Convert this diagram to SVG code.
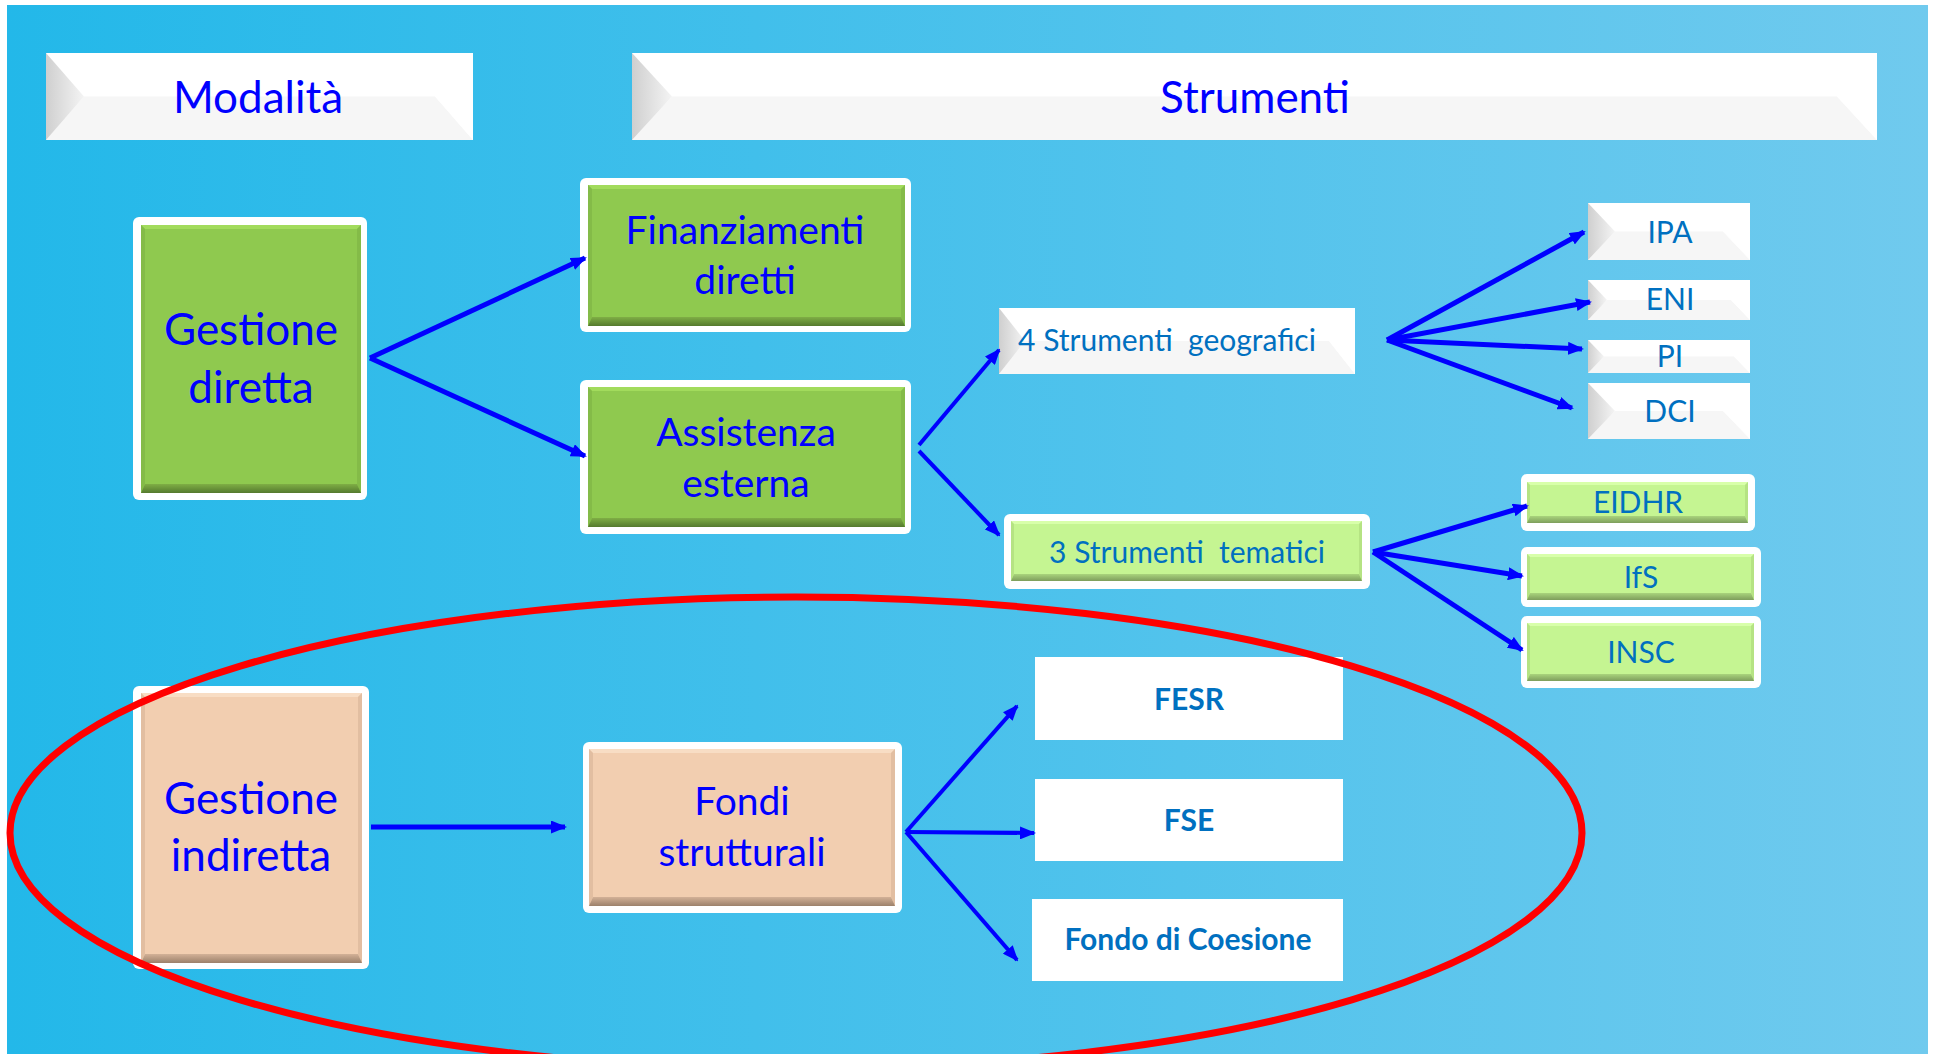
<svg xmlns="http://www.w3.org/2000/svg" width="1937" height="1054" viewBox="0 0 1937 1054">
<defs>
<linearGradient id="bg" x1="0" y1="0" x2="1" y2="0">
<stop offset="0" stop-color="#23B8E9"/>
<stop offset="1" stop-color="#70CAEE"/>
</linearGradient>
<linearGradient id="hl" x1="0" y1="0" x2="1" y2="0">
<stop offset="0" stop-color="#CFCFCF"/>
<stop offset="1" stop-color="#F4F4F4"/>
</linearGradient>
<linearGradient id="gB" x1="0" y1="0" x2="0" y2="1">
<stop offset="0" stop-color="#7FAE45"/>
<stop offset="1" stop-color="#557A2E"/>
</linearGradient>
<linearGradient id="lB" x1="0" y1="0" x2="0" y2="1">
<stop offset="0" stop-color="#A9D47C"/>
<stop offset="1" stop-color="#7E9E5C"/>
</linearGradient>
<linearGradient id="pB" x1="0" y1="0" x2="0" y2="1">
<stop offset="0" stop-color="#D3B197"/>
<stop offset="1" stop-color="#9C816B"/>
</linearGradient>
<marker id="ah" viewBox="0 0 16 13" refX="14" refY="6.5" markerWidth="16" markerHeight="13" markerUnits="userSpaceOnUse" orient="auto">
<path d="M0,0 L16,6.5 L0,13 Z" fill="#0000FF"/>
</marker>
</defs>
<style>
.frame{fill:#FFFFFF}
.hdr{fill:#FFFFFF}
.hL{fill:url(#hl)}
.hB{fill:#F6F6F6}
.hR{fill:#FFFFFF}
.g{fill:#8FC94F}
.gT{fill:#A2DB5C}
.gS{fill:#84BB48}
.gB{fill:url(#gB)}
.l{fill:#C5F592}
.lT{fill:#D8FFAA}
.lS{fill:#B5E383}
.lB{fill:url(#lB)}
.p{fill:#F2CEB0}
.pT{fill:#F8DDC4}
.pS{fill:#E2BEA1}
.pB{fill:url(#pB)}
.plain{fill:#FFFFFF}
text{font-family:Lato,"Open Sans","Liberation Sans",sans-serif;text-anchor:middle}
.big{fill:#0000FF;font-size:44px}
.mid{fill:#0000FF;font-size:39px}
.sm{fill:#0070C0;font-size:30px}
.bd{fill:#0070C0;font-size:30px;font-weight:bold}
.conn line{stroke:#0000FF;stroke-width:5;marker-end:url(#ah)}
.conn line.thin{stroke-width:4}
</style>
<rect x="0" y="0" width="1937" height="1054" fill="#FFFFFF"/>
<rect x="7" y="5" width="1921" height="1049" fill="url(#bg)"/>

<g id="hdr-modalita">
<rect class="hdr" x="46" y="53" width="427" height="87"/>
<polygon class="hB" points="84,96.5 435,96.5 473,140 46,140"/>
<polygon class="hR" points="435,96.5 473,53 473,140"/>
<polygon class="hL" points="46,53 84,96.5 46,140"/>
<text class="big" x="258" y="113">Modalità</text>
</g>
<g id="hdr-strumenti">
<rect class="hdr" x="632" y="53" width="1245" height="87"/>
<polygon class="hB" points="672,96.5 1837,96.5 1877,140 632,140"/>
<polygon class="hR" points="1837,96.5 1877,53 1877,140"/>
<polygon class="hL" points="632,53 672,96.5 632,140"/>
<text class="big" x="1255" y="113">Strumenti</text>
</g>

<g id="gestione-diretta">
<rect class="frame" x="133" y="217" width="234" height="283" rx="6"/>
<rect class="g" x="141" y="225" width="220" height="268"/>
<polygon class="gT" points="141,225 361,225 357,229 145,229"/>
<polygon class="gS" points="141,225 145,229 145,484 141,493"/>
<polygon class="gS" points="361,225 357,229 357,484 361,493"/>
<polygon class="gB" points="141,493 361,493 357,484 145,484"/>
<text class="big" x="251" y="345">Gestione</text>
<text class="big" x="251" y="403">diretta</text>
</g>

<g id="finanziamenti-diretti">
<rect class="frame" x="580" y="178" width="331" height="154" rx="6"/>
<rect class="g" x="588" y="185" width="317" height="141"/>
<polygon class="gT" points="588,185 905,185 901,189 592,189"/>
<polygon class="gS" points="588,185 592,189 592,317 588,326"/>
<polygon class="gS" points="905,185 901,189 901,317 905,326"/>
<polygon class="gB" points="588,326 905,326 901,317 592,317"/>
<text class="mid" x="745" y="244">Finanziamenti</text>
<text class="mid" x="745" y="294">diretti</text>
</g>

<g id="assistenza-esterna">
<rect class="frame" x="580" y="380" width="331" height="154" rx="6"/>
<rect class="g" x="588" y="387" width="317" height="140"/>
<polygon class="gT" points="588,387 905,387 901,391 592,391"/>
<polygon class="gS" points="588,387 592,391 592,518 588,527"/>
<polygon class="gS" points="905,387 901,391 901,518 905,527"/>
<polygon class="gB" points="588,527 905,527 901,518 592,518"/>
<text class="mid" x="746" y="446">Assistenza</text>
<text class="mid" x="746" y="497">esterna</text>
</g>

<g id="strumenti-geografici">
<rect class="hdr" x="999" y="308" width="356" height="66"/>
<polygon class="hB" points="1025,341 1329,341 1355,374 999,374"/>
<polygon class="hR" points="1329,341 1355,308 1355,374"/>
<polygon class="hL" points="999,308 1025,341 999,374"/>
<text class="sm" x="1167" y="351" xml:space="preserve">4 Strumenti  geografici</text>
</g>

<g id="ipa">
<rect class="hdr" x="1588" y="203" width="162" height="57"/>
<polygon class="hB" points="1615,231.5 1723,231.5 1750,260 1588,260"/>
<polygon class="hR" points="1723,231.5 1750,203 1750,260"/>
<polygon class="hL" points="1588,203 1615,231.5 1588,260"/>
<text class="sm" x="1670" y="243">IPA</text>
</g>
<g id="eni">
<rect class="hdr" x="1588" y="280" width="162" height="40"/>
<polygon class="hB" points="1607,300 1731,300 1750,320 1588,320"/>
<polygon class="hR" points="1731,300 1750,280 1750,320"/>
<polygon class="hL" points="1588,280 1607,300 1588,320"/>
<text class="sm" x="1670" y="310">ENI</text>
</g>
<g id="pi">
<rect class="hdr" x="1588" y="340" width="162" height="33"/>
<polygon class="hB" points="1604,356.5 1734,356.5 1750,373 1588,373"/>
<polygon class="hR" points="1734,356.5 1750,340 1750,373"/>
<polygon class="hL" points="1588,340 1604,356.5 1588,373"/>
<text class="sm" x="1670" y="367">PI</text>
</g>
<g id="dci">
<rect class="hdr" x="1588" y="383" width="162" height="56"/>
<polygon class="hB" points="1615,411 1723,411 1750,439 1588,439"/>
<polygon class="hR" points="1723,411 1750,383 1750,439"/>
<polygon class="hL" points="1588,383 1615,411 1588,439"/>
<text class="sm" x="1670" y="422">DCI</text>
</g>

<g id="strumenti-tematici">
<rect class="frame" x="1004" y="514" width="366" height="75" rx="6"/>
<rect class="l" x="1011" y="521" width="351" height="60"/>
<polygon class="lT" points="1011,521 1362,521 1359,524 1014,524"/>
<polygon class="lS" points="1011,521 1014,524 1014,574 1011,581"/>
<polygon class="lS" points="1362,521 1359,524 1359,574 1362,581"/>
<polygon class="lB" points="1011,581 1362,581 1359,574 1014,574"/>
<text class="sm" x="1187" y="563" xml:space="preserve">3 Strumenti  tematici</text>
</g>

<g id="eidhr">
<rect class="frame" x="1521" y="474" width="234" height="57" rx="6"/>
<rect class="l" x="1527" y="482" width="221" height="41"/>
<polygon class="lT" points="1527,482 1748,482 1745,485 1530,485"/>
<polygon class="lS" points="1527,482 1530,485 1530,516 1527,523"/>
<polygon class="lS" points="1748,482 1745,485 1745,516 1748,523"/>
<polygon class="lB" points="1527,523 1748,523 1745,516 1530,516"/>
<text class="sm" x="1638" y="513">EIDHR</text>
</g>
<g id="ifs">
<rect class="frame" x="1521" y="547" width="240" height="60" rx="6"/>
<rect class="l" x="1527" y="554" width="227" height="46"/>
<polygon class="lT" points="1527,554 1754,554 1751,557 1530,557"/>
<polygon class="lS" points="1527,554 1530,557 1530,593 1527,600"/>
<polygon class="lS" points="1754,554 1751,557 1751,593 1754,600"/>
<polygon class="lB" points="1527,600 1754,600 1751,593 1530,593"/>
<text class="sm" x="1641" y="588">IfS</text>
</g>
<g id="insc">
<rect class="frame" x="1521" y="616" width="240" height="72" rx="6"/>
<rect class="l" x="1527" y="623" width="227" height="58"/>
<polygon class="lT" points="1527,623 1754,623 1751,626 1530,626"/>
<polygon class="lS" points="1527,623 1530,626 1530,674 1527,681"/>
<polygon class="lS" points="1754,623 1751,626 1751,674 1754,681"/>
<polygon class="lB" points="1527,681 1754,681 1751,674 1530,674"/>
<text class="sm" x="1641" y="663">INSC</text>
</g>

<g id="gestione-indiretta">
<rect class="frame" x="133" y="686" width="236" height="283" rx="6"/>
<rect class="p" x="141" y="693" width="221" height="270"/>
<polygon class="pT" points="141,693 362,693 358,697 145,697"/>
<polygon class="pS" points="141,693 145,697 145,954 141,963"/>
<polygon class="pS" points="362,693 358,697 358,954 362,963"/>
<polygon class="pB" points="141,963 362,963 358,954 145,954"/>
<text class="big" x="251" y="814">Gestione</text>
<text class="big" x="251" y="871">indiretta</text>
</g>

<g id="fondi-strutturali">
<rect class="frame" x="583" y="742" width="319" height="171" rx="6"/>
<rect class="p" x="589" y="749" width="306" height="157"/>
<polygon class="pT" points="589,749 895,749 891,753 593,753"/>
<polygon class="pS" points="589,749 593,753 593,897 589,906"/>
<polygon class="pS" points="895,749 891,753 891,897 895,906"/>
<polygon class="pB" points="589,906 895,906 891,897 593,897"/>
<text class="mid" x="742" y="815">Fondi</text>
<text class="mid" x="742" y="866">strutturali</text>
</g>

<g id="fesr">
<rect class="plain" x="1035" y="657" width="308" height="83"/>
<text class="bd" x="1189" y="710">FESR</text>
</g>
<g id="fse">
<rect class="plain" x="1035" y="779" width="308" height="82"/>
<text class="bd" x="1189" y="831">FSE</text>
</g>
<g id="fondo-coesione">
<rect class="plain" x="1032" y="899" width="311" height="82"/>
<text class="bd" x="1188" y="950">Fondo di Coesione</text>
</g>

<g id="connectors" class="conn">
<line x1="370" y1="358" x2="585" y2="258"/>
<line x1="370" y1="358" x2="585" y2="456"/>
<line class="thin" x1="919" y1="445" x2="999" y2="350"/>
<line class="thin" x1="919" y1="451" x2="999" y2="535"/>
<line x1="1387" y1="340" x2="1584" y2="232"/>
<line x1="1387" y1="340" x2="1590" y2="302"/>
<line x1="1387" y1="340" x2="1582" y2="349"/>
<line x1="1387" y1="340" x2="1572" y2="408"/>
<line x1="1373" y1="552" x2="1527" y2="506"/>
<line x1="1373" y1="552" x2="1522" y2="576"/>
<line x1="1373" y1="552" x2="1522" y2="650"/>
<line x1="371" y1="827" x2="565" y2="827"/>
<line class="thin" x1="906" y1="832" x2="1017" y2="706"/>
<line class="thin" x1="906" y1="832" x2="1034" y2="833"/>
<line class="thin" x1="906" y1="832" x2="1017" y2="960"/>
</g>

<ellipse id="highlight" cx="796" cy="833" rx="786" ry="236" fill="none" stroke="#FF0000" stroke-width="7"/>
</svg>
